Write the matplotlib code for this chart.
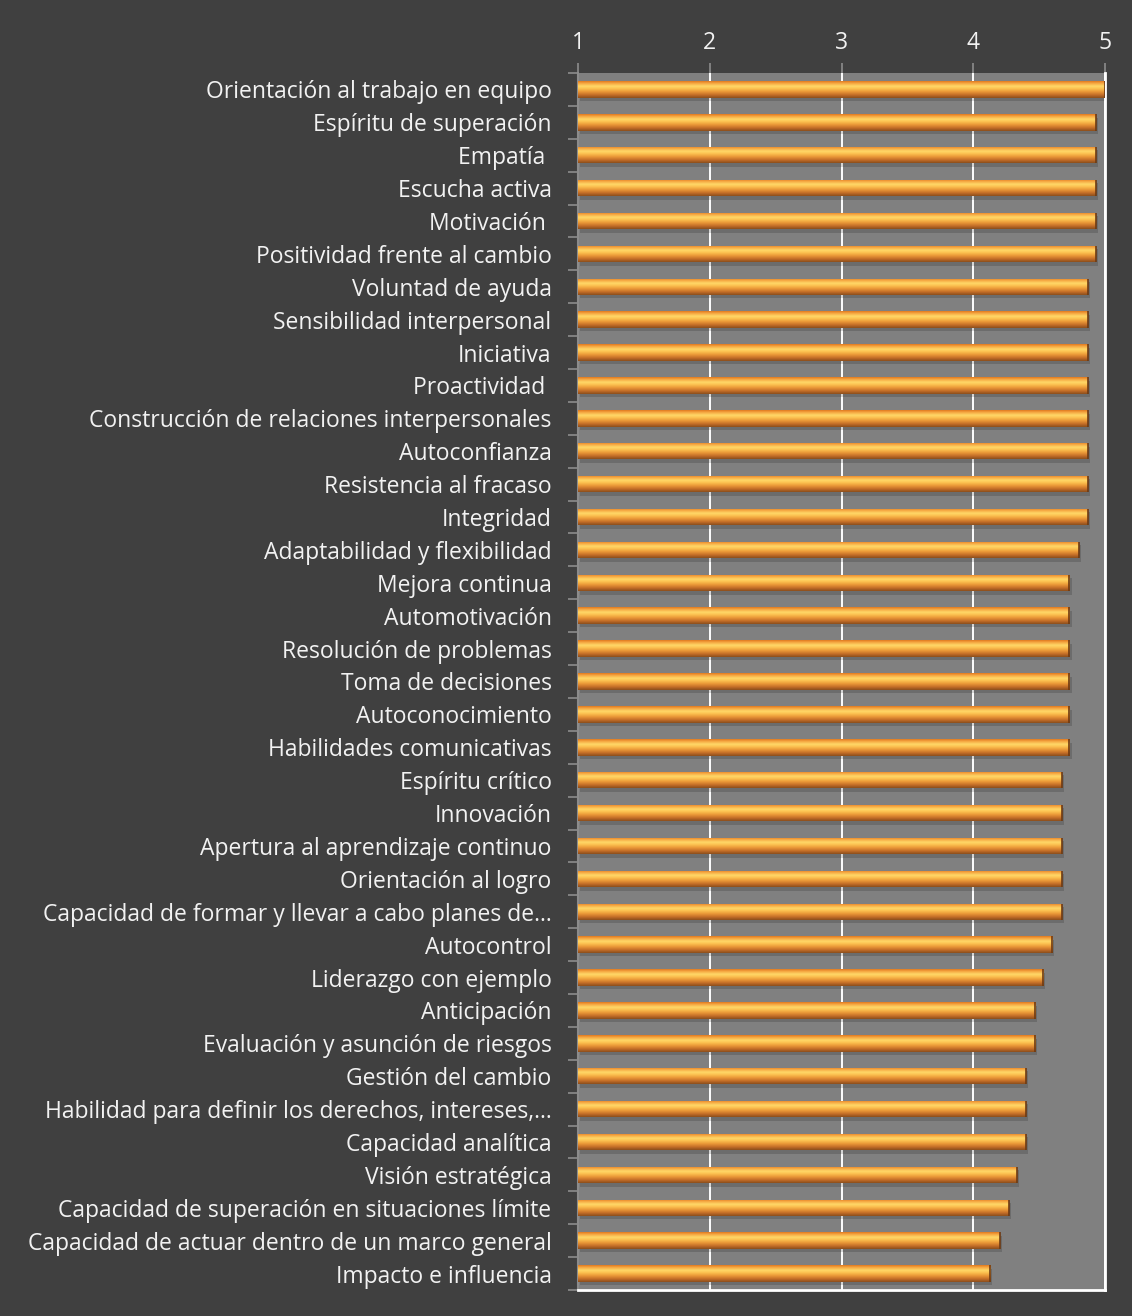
import numpy as np
import matplotlib
matplotlib.use("Agg")
import matplotlib.pyplot as plt
import matplotlib.patheffects as pe
from matplotlib.colors import LinearSegmentedColormap

categories = [
    "Orientación al trabajo en equipo",
    "Espíritu de superación",
    "Empatía ",
    "Escucha activa",
    "Motivación ",
    "Positividad frente al cambio",
    "Voluntad de ayuda",
    "Sensibilidad interpersonal",
    "Iniciativa",
    "Proactividad ",
    "Construcción de relaciones interpersonales",
    "Autoconfianza",
    "Resistencia al fracaso",
    "Integridad",
    "Adaptabilidad y flexibilidad",
    "Mejora continua",
    "Automotivación",
    "Resolución de problemas",
    "Toma de decisiones",
    "Autoconocimiento",
    "Habilidades comunicativas",
    "Espíritu crítico",
    "Innovación",
    "Apertura al aprendizaje continuo",
    "Orientación al logro",
    "Capacidad de formar y llevar a cabo planes de…",
    "Autocontrol",
    "Liderazgo con ejemplo",
    "Anticipación",
    "Evaluación y asunción de riesgos",
    "Gestión del cambio",
    "Habilidad para definir los derechos, intereses,…",
    "Capacidad analítica",
    "Visión estratégica",
    "Capacidad de superación en situaciones límite",
    "Capacidad de actuar dentro de un marco general",
    "Impacto e influencia",
]
values = [
    5.00, 4.93, 4.93, 4.93, 4.93, 4.93,
    4.87, 4.87, 4.87, 4.87, 4.87, 4.87, 4.87, 4.87,
    4.80,
    4.73, 4.73, 4.73, 4.73, 4.73, 4.73,
    4.67, 4.67, 4.67, 4.67, 4.67,
    4.60, 4.53, 4.47, 4.47,
    4.40, 4.40, 4.40,
    4.33, 4.27, 4.20, 4.13,
]
x_ticks = [1, 2, 3, 4, 5]

BG = "#404040"
PLOT_BG = "#808080"
TEXT = "#f2f2f2"

plt.rcParams["font.family"] = ["Open Sans", "DejaVu Sans"]

fig = plt.figure(figsize=(11.32, 13.16), dpi=100, facecolor=BG)
W, H = 1132, 1316
left, right, top, bottom = 578, 1105, 73, 1290
ax = fig.add_axes([left / W, 1 - bottom / H, (right - left) / W, (bottom - top) / H])
ax.set_facecolor(PLOT_BG)

n = len(categories)
y = np.arange(n)
bar_h = 0.5

ax.set_xlim(1, 5)
ax.set_ylim(n - 0.5, -0.5)

# grid
for xv in x_ticks[1:]:
    ax.axvline(xv, color="white", lw=1.4, zorder=1)

# gradient colormap (top -> bottom of bar)
grad_cmap = LinearSegmentedColormap.from_list(
    "barg",
    [(0.0, "#e07a20"), (0.12, "#f5a540"), (0.30, "#ffd868"), (0.45, "#fcc050"),
     (0.62, "#eb9a38"), (0.82, "#c46e28"), (1.0, "#8c4e1c")],
)
grad = np.linspace(0, 1, 64).reshape(-1, 1)

bars = ax.barh(y, np.array(values) - 1, left=1, height=bar_h, color="#e89a3a",
               edgecolor="none", zorder=2)
for b in bars:
    b.set_path_effects([pe.SimplePatchShadow(offset=(1.5, -2.5), shadow_rgbFace="black", alpha=0.15),
                        pe.Normal()])
    x0, y0 = b.get_x(), b.get_y()
    w, h = b.get_width(), b.get_height()
    im = ax.imshow(grad, cmap=grad_cmap, aspect="auto",
                   extent=[x0, x0 + w, y0 + h, y0], zorder=3, interpolation="bilinear")
    im.set_clip_path(b)
    # dark end cap
    ax.plot([x0 + w, x0 + w], [y0, y0 + h], color="#6e3a12", lw=1.2, zorder=4,
            solid_capstyle="butt")

ax.set_yticks(y)
ax.set_yticklabels(categories, fontsize=16.5, color=TEXT)
ax.set_yticks(np.arange(-0.5, n, 1), minor=True)
ax.tick_params(axis="y", which="major", length=0, pad=19)
ax.tick_params(axis="y", which="minor", length=7, width=1.2, color="#8c8c8c")

ax.xaxis.tick_top()
ax.set_xticks(x_ticks)
ax.set_xticklabels([str(t) for t in x_ticks], fontsize=16.5, color=TEXT)
ax.tick_params(axis="x", length=7, width=1.2, color="#8c8c8c", pad=6)

for s in ["top"]:
    ax.spines[s].set_visible(False)
ax.spines["left"].set_color("#8c8c8c")
ax.spines["left"].set_linewidth(1.5)
ax.spines["right"].set_color("white")
ax.spines["right"].set_linewidth(2)
ax.spines["bottom"].set_color("white")
ax.spines["bottom"].set_linewidth(2)

fig.savefig("out.png", dpi=100, facecolor=BG)
